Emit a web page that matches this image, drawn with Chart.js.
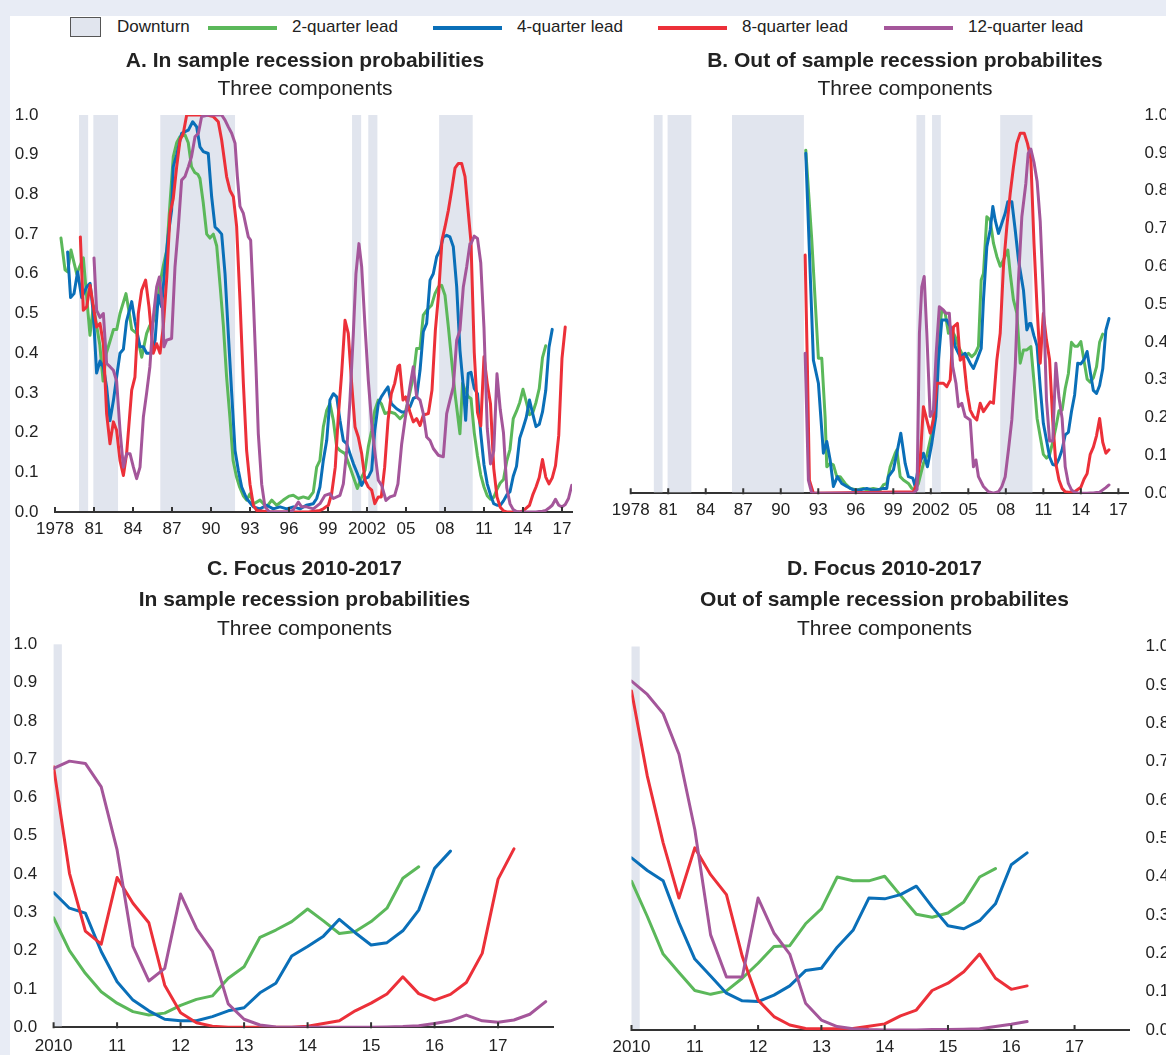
<!DOCTYPE html>
<html><head><meta charset="utf-8">
<script src="https://cdn.jsdelivr.net/npm/chart.js@4.4.1/dist/chart.umd.min.js"></script>
<style>
html,body{margin:0;padding:0;background:#fff;overflow:hidden;width:1166px;height:1055px;position:relative}
#frameTop{position:absolute;left:0;top:0;width:1166px;height:16px;background:#e8ecf5}
#frameLeft{position:absolute;left:0;top:0;width:10px;height:1055px;background:#e8ecf5}
.lg{position:absolute;top:17px;line-height:20px;font:17px 'Liberation Sans',Arial,sans-serif;color:#222;white-space:nowrap}
.ln{position:absolute;top:26px;height:4px}
.bx{position:absolute;left:70px;top:17px;width:29px;height:18px;border:1px solid #555;background:#e1e5ee}
canvas{position:absolute}
</style></head>
<body>
<div id="frameTop"></div><div id="frameLeft"></div>
<div class="bx"></div><div class="lg" style="left:117px">Downturn</div>
<div class="ln" style="left:208px;width:69px;background:#5bb85a"></div><div class="lg" style="left:292px">2-quarter lead</div>
<div class="ln" style="left:433px;width:69px;background:#0a6fb8"></div><div class="lg" style="left:517px">4-quarter lead</div>
<div class="ln" style="left:658px;width:69px;background:#ec3039"></div><div class="lg" style="left:742px">8-quarter lead</div>
<div class="ln" style="left:884px;width:69px;background:#a4569a"></div><div class="lg" style="left:968px">12-quarter lead</div>

<canvas id="cA" width="610" height="505" style="left:0;top:40px"></canvas>
<canvas id="cB" width="610" height="486" style="left:600px;top:40px"></canvas>
<canvas id="cC" width="609" height="515" style="left:0;top:545px"></canvas>
<canvas id="cD" width="569" height="515" style="left:600px;top:545px"></canvas>

<script>
// ---------- DATA ----------
const seriesNames = ['2-quarter lead', '4-quarter lead', '8-quarter lead', '12-quarter lead'];
const downturns = [[1979.85,1980.55],[1980.95,1982.85],[1986.1,1991.85],[2000.85,2001.55],[2002.1,2002.8],[2007.55,2010.13]];

const longTickValues = [1978,1981,1984,1987,1990,1993,1996,1999,2002,2005,2008,2011,2014,2017];
const longTickLabels = ['1978','81','84','87','90','93','96','99','2002','05','08','11','14','17'];
const focusTickValues = [2010,2011,2012,2013,2014,2015,2016,2017];
const focusTickLabels = ['2010','11','12','13','14','15','16','17'];
const probTickValues = [0,0.1,0.2,0.3,0.4,0.5,0.6,0.7,0.8,0.9,1.0];
const probTickLabels = ['0.0','0.1','0.2','0.3','0.4','0.5','0.6','0.7','0.8','0.9','1.0'];

// quarters 2010Q1 .. 2017Q4
const focusQuarters = [2010,2010.25,2010.5,2010.75,2011,2011.25,2011.5,2011.75,2012,2012.25,2012.5,2012.75,2013,2013.25,2013.5,2013.75,2014,2014.25,2014.5,2014.75,2015,2015.25,2015.5,2015.75,2016,2016.25,2016.5,2016.75,2017,2017.25,2017.5,2017.75];

// Panel C (in sample, 2010-2017)
const focusIn2q = [0.286,0.200,0.141,0.093,0.063,0.041,0.032,0.037,0.057,0.073,0.082,0.128,0.158,0.235,0.254,0.276,0.309,0.278,0.245,0.250,0.276,0.311,0.389,0.419];
const focusIn4q = [0.352,0.311,0.298,0.198,0.119,0.071,0.043,0.021,0.017,0.017,0.028,0.043,0.051,0.090,0.115,0.186,0.211,0.238,0.282,0.247,0.215,0.221,0.252,0.306,0.415,0.460];
const focusIn8q = [0.680,0.402,0.251,0.217,0.391,0.324,0.273,0.110,0.038,0.012,0.003,0.000,0.000,0.000,0.000,0.000,0.003,0.010,0.017,0.043,0.063,0.087,0.132,0.088,0.071,0.086,0.117,0.193,0.387,0.466];
const focusIn12q = [0.676,0.695,0.689,0.628,0.463,0.211,0.121,0.154,0.348,0.258,0.199,0.061,0.021,0.006,0.001,0.000,0.000,0.000,0.000,0.000,0.000,0.001,0.002,0.004,0.010,0.017,0.032,0.017,0.013,0.019,0.034,0.067];

// Panel D (out of sample, 2010-2017)
const focusOut2q = [0.388,0.296,0.198,0.150,0.103,0.093,0.102,0.135,0.174,0.218,0.220,0.277,0.316,0.399,0.389,0.389,0.401,0.351,0.302,0.294,0.305,0.334,0.399,0.421];
const focusOut4q = [0.449,0.416,0.389,0.280,0.185,0.141,0.096,0.076,0.074,0.091,0.115,0.155,0.161,0.216,0.260,0.344,0.342,0.353,0.375,0.321,0.272,0.264,0.285,0.329,0.431,0.462];
const focusOut8q = [0.884,0.662,0.488,0.344,0.475,0.405,0.353,0.192,0.078,0.035,0.013,0.004,0.003,0.003,0.004,0.010,0.016,0.037,0.052,0.103,0.122,0.152,0.198,0.135,0.106,0.115];
const focusOut12q = [0.910,0.875,0.825,0.719,0.523,0.248,0.138,0.138,0.344,0.253,0.198,0.070,0.026,0.009,0.003,0.001,0.000,0.000,0.000,0.001,0.001,0.002,0.003,0.009,0.015,0.022];

// Panel A before 2010: [year, probability]
const in2qEarly = [[1978.46,0.69],[1978.77,0.61],[1978.97,0.605],[1979.23,0.66],[1979.67,0.60],[1980.18,0.64],[1980.69,0.445],[1980.95,0.52],[1981.2,0.47],[1981.45,0.42],[1981.7,0.33],[1981.95,0.40],[1982.23,0.43],[1982.5,0.46],[1982.75,0.46],[1983.0,0.50],[1983.46,0.55],[1983.72,0.50],[1983.9,0.46],[1984.28,0.45],[1984.67,0.39],[1985.05,0.45],[1985.3,0.47],[1985.56,0.48],[1985.82,0.52],[1986.1,0.58],[1986.33,0.62],[1986.6,0.66],[1986.85,0.78],[1987.1,0.895],[1987.36,0.93],[1987.6,0.945],[1988.0,0.95],[1988.25,0.93],[1988.5,0.87],[1988.75,0.855],[1989.0,0.85],[1989.15,0.84],[1989.4,0.78],[1989.67,0.70],[1989.92,0.69],[1990.18,0.70],[1990.44,0.67],[1990.7,0.57],[1990.95,0.47],[1991.2,0.34],[1991.45,0.24],[1991.7,0.13],[1991.95,0.09],[1992.2,0.063],[1992.5,0.04],[1992.74,0.03],[1993.0,0.046],[1993.26,0.02],[1993.77,0.03],[1994.28,0.013],[1994.67,0.03],[1995.05,0.017],[1995.56,0.03],[1996.0,0.04],[1996.33,0.042],[1996.72,0.034],[1997.1,0.038],[1997.5,0.034],[1997.87,0.05],[1998.13,0.113],[1998.38,0.13],[1998.64,0.214],[1998.9,0.256],[1999.15,0.273],[1999.41,0.231],[1999.67,0.164],[1999.92,0.155],[2000.31,0.147],[2000.69,0.113],[2000.95,0.088],[2001.26,0.059],[2001.59,0.088],[2001.85,0.105],[2002.1,0.164],[2002.36,0.206],[2002.6,0.256],[2002.87,0.282],[2003.1,0.273],[2003.38,0.248],[2003.77,0.252],[2004.15,0.248],[2004.54,0.235],[2004.92,0.248],[2005.18,0.282],[2005.56,0.34],[2005.82,0.412],[2006.08,0.412],[2006.33,0.496],[2006.59,0.508],[2006.97,0.521],[2007.23,0.55],[2007.49,0.567],[2007.74,0.571],[2008.0,0.546],[2008.26,0.466],[2008.51,0.382],[2008.77,0.298],[2009.15,0.197],[2009.35,0.324],[2009.54,0.307],[2009.8,0.29]];
const in4qEarly = [[1978.97,0.655],[1979.2,0.54],[1979.46,0.55],[1979.74,0.605],[1980.05,0.54],[1980.44,0.567],[1980.7,0.576],[1980.95,0.50],[1981.2,0.35],[1981.46,0.38],[1981.72,0.365],[1981.97,0.315],[1982.23,0.23],[1982.49,0.28],[1982.74,0.34],[1983.0,0.40],[1983.26,0.41],[1983.5,0.48],[1983.9,0.53],[1984.15,0.48],[1984.54,0.416],[1984.8,0.416],[1985.05,0.40],[1985.44,0.40],[1985.7,0.433],[1985.95,0.546],[1986.2,0.517],[1986.46,0.617],[1986.72,0.70],[1986.97,0.76],[1987.1,0.87],[1987.36,0.90],[1987.74,0.954],[1988.0,0.958],[1988.26,0.962],[1988.59,0.983],[1988.9,0.97],[1989.15,0.92],[1989.41,0.908],[1989.79,0.903],[1990.05,0.794],[1990.31,0.718],[1990.56,0.71],[1990.82,0.70],[1991.08,0.60],[1991.33,0.45],[1991.59,0.30],[1991.85,0.155],[1992.1,0.105],[1992.36,0.063],[1992.74,0.034],[1993.26,0.013],[1993.77,0.008],[1994.28,0.017],[1994.79,0.008],[1995.31,0.013],[1995.82,0.008],[1996.33,0.013],[1996.85,0.008],[1997.33,0.017],[1997.87,0.021],[1998.13,0.034],[1998.38,0.063],[1998.64,0.13],[1998.9,0.18],[1999.15,0.282],[1999.41,0.298],[1999.67,0.29],[1999.92,0.231],[2000.18,0.18],[2000.44,0.172],[2000.69,0.147],[2000.95,0.122],[2001.26,0.097],[2001.59,0.067],[2001.85,0.084],[2002.1,0.088],[2002.36,0.105],[2002.6,0.206],[2002.87,0.273],[2003.1,0.29],[2003.36,0.303],[2003.62,0.315],[2003.87,0.273],[2004.28,0.26],[2004.67,0.252],[2004.92,0.252],[2005.31,0.265],[2005.56,0.286],[2005.82,0.29],[2006.08,0.357],[2006.33,0.454],[2006.59,0.475],[2006.85,0.584],[2007.1,0.60],[2007.36,0.643],[2007.62,0.66],[2007.87,0.693],[2008.13,0.697],[2008.38,0.693],[2008.64,0.668],[2008.9,0.567],[2009.15,0.408],[2009.41,0.315],[2009.59,0.231],[2009.79,0.349]];
const in8qEarly = [[1979.95,0.693],[1980.18,0.508],[1980.44,0.517],[1980.7,0.571],[1980.95,0.517],[1981.2,0.466],[1981.46,0.475],[1981.72,0.424],[1981.97,0.248],[1982.23,0.172],[1982.49,0.227],[1982.74,0.206],[1983.0,0.13],[1983.26,0.092],[1983.51,0.147],[1983.9,0.307],[1984.15,0.34],[1984.41,0.50],[1984.67,0.559],[1984.97,0.584],[1985.23,0.517],[1985.56,0.40],[1985.82,0.424],[1986.08,0.40],[1986.33,0.466],[1986.6,0.592],[1986.85,0.752],[1987.1,0.79],[1987.36,0.87],[1987.62,0.937],[1987.87,0.954],[1988.13,1.0],[1988.64,1.0],[1989.15,1.0],[1989.67,1.0],[1990.18,0.996],[1990.56,0.983],[1990.82,0.937],[1991.2,0.845],[1991.46,0.81],[1991.72,0.794],[1991.97,0.72],[1992.23,0.533],[1992.49,0.324],[1992.74,0.155],[1993.0,0.07],[1993.26,0.017],[1993.51,0.004],[1994.5,0.0],[1996.0,0.0],[1997.5,0.0],[1998.38,0.004],[1998.64,0.008],[1999.03,0.017],[1999.28,0.046],[1999.56,0.113],[1999.79,0.24],[2000.05,0.349],[2000.31,0.483],[2000.56,0.45],[2000.82,0.324],[2001.08,0.214],[2001.33,0.189],[2001.59,0.147],[2001.85,0.08],[2002.1,0.063],[2002.36,0.055],[2002.6,0.021],[2002.87,0.038],[2003.1,0.038],[2003.36,0.113],[2003.62,0.231],[2003.87,0.298],[2004.13,0.324],[2004.38,0.366],[2004.51,0.37],[2004.77,0.282],[2004.97,0.29],[2005.3,0.252],[2005.56,0.227],[2005.82,0.235],[2006.08,0.218],[2006.33,0.244],[2006.72,0.248],[2007.0,0.307],[2007.26,0.458],[2007.51,0.55],[2007.77,0.685],[2008.0,0.718],[2008.26,0.76],[2008.51,0.81],[2008.77,0.866],[2009.03,0.878],[2009.28,0.878],[2009.54,0.845]];
const in12qEarly = [[1981.0,0.64],[1981.2,0.508],[1981.46,0.49],[1981.72,0.50],[1981.97,0.374],[1982.23,0.366],[1982.49,0.357],[1982.74,0.33],[1983.0,0.206],[1983.26,0.113],[1983.51,0.147],[1983.77,0.147],[1984.03,0.113],[1984.28,0.084],[1984.54,0.113],[1984.8,0.24],[1985.05,0.30],[1985.3,0.366],[1985.56,0.49],[1985.82,0.567],[1986.03,0.592],[1986.26,0.517],[1986.38,0.416],[1986.59,0.433],[1986.97,0.437],[1987.23,0.617],[1987.49,0.718],[1987.74,0.836],[1988.0,0.845],[1988.26,0.87],[1988.5,0.895],[1988.77,0.945],[1989.03,0.954],[1989.28,0.996],[1989.8,1.0],[1990.44,1.0],[1990.82,1.0],[1991.08,0.987],[1991.33,0.97],[1991.59,0.954],[1991.85,0.929],[1992.03,0.845],[1992.23,0.77],[1992.49,0.752],[1992.87,0.693],[1993.05,0.685],[1993.26,0.533],[1993.46,0.366],[1993.64,0.197],[1993.9,0.07],[1994.15,0.013],[1994.5,0.0],[1995.8,0.0],[1996.3,0.004],[1996.72,0.025],[1996.97,0.013],[1997.36,0.013],[1997.87,0.008],[1998.38,0.021],[1998.77,0.042],[1999.15,0.046],[1999.41,0.034],[1999.92,0.042],[2000.18,0.071],[2000.44,0.155],[2000.69,0.282],[2000.95,0.45],[2001.15,0.60],[2001.38,0.676],[2001.59,0.618],[2001.85,0.466],[2002.1,0.332],[2002.36,0.223],[2002.62,0.147],[2002.87,0.08],[2003.13,0.067],[2003.46,0.029],[2003.77,0.038],[2004.13,0.042],[2004.38,0.071],[2004.67,0.172],[2004.92,0.231],[2005.3,0.315],[2005.56,0.366],[2005.82,0.29],[2006.08,0.282],[2006.33,0.248],[2006.59,0.189],[2006.85,0.18],[2007.1,0.16],[2007.49,0.143],[2007.87,0.139],[2008.13,0.248],[2008.38,0.282],[2008.64,0.315],[2008.9,0.433],[2009.15,0.458],[2009.41,0.567],[2009.67,0.618],[2009.92,0.676]];

// Panel B before 2010: [year, probability]
const out2qEarly = [[1992.0,0.907],[1992.48,0.67],[1993.01,0.357],[1993.28,0.357],[1993.55,0.2],[1993.68,0.07],[1993.95,0.079],[1994.21,0.075],[1994.48,0.044],[1994.75,0.044],[1995.15,0.026],[1995.55,0.013],[1996.08,0.009],[1996.6,0.013],[1996.88,0.009],[1997.4,0.013],[1997.95,0.009],[1998.2,0.022],[1998.48,0.026],[1998.75,0.07],[1999.15,0.106],[1999.28,0.115],[1999.55,0.044],[1999.81,0.035],[2000.21,0.026],[2000.48,0.013],[2000.75,0.009],[2001.01,0.026],[2001.41,0.079],[2001.68,0.1],[2002.08,0.159],[2002.35,0.247],[2002.61,0.405],[2002.88,0.485],[2003.15,0.476],[2003.41,0.423],[2003.68,0.432],[2003.95,0.414],[2004.21,0.388],[2004.48,0.37],[2004.75,0.361],[2005.01,0.37],[2005.28,0.361],[2005.55,0.37],[2005.81,0.388],[2006.03,0.564],[2006.21,0.581],[2006.48,0.731],[2006.75,0.722],[2007.01,0.661],[2007.28,0.626],[2007.55,0.6],[2007.81,0.617],[2008.16,0.643],[2008.35,0.581],[2008.61,0.511],[2008.88,0.476],[2009.15,0.344],[2009.41,0.379],[2009.68,0.379]];
const out4qEarly = [[1992.0,0.899],[1992.61,0.352],[1993.01,0.291],[1993.41,0.106],[1993.68,0.137],[1993.95,0.088],[1994.21,0.018],[1994.53,0.044],[1994.88,0.026],[1995.28,0.018],[1995.81,0.009],[1996.35,0.009],[1996.88,0.013],[1997.28,0.009],[1997.68,0.009],[1998.2,0.013],[1998.48,0.013],[1998.61,0.044],[1999.01,0.062],[1999.28,0.106],[1999.6,0.159],[1999.95,0.079],[2000.21,0.044],[2000.56,0.04],[2000.75,0.018],[2001.01,0.07],[2001.41,0.106],[2001.73,0.07],[2002.08,0.132],[2002.4,0.203],[2002.61,0.352],[2002.88,0.458],[2003.28,0.458],[2003.68,0.432],[2003.95,0.388],[2004.35,0.361],[2004.75,0.37],[2005.15,0.344],[2005.41,0.33],[2005.68,0.352],[2006.03,0.383],[2006.21,0.511],[2006.48,0.652],[2006.75,0.696],[2006.96,0.758],[2007.15,0.722],[2007.41,0.687],[2007.68,0.714],[2007.95,0.74],[2008.16,0.771],[2008.48,0.771],[2008.75,0.696],[2009.01,0.617],[2009.41,0.537],[2009.68,0.432],[2009.89,0.449]];
const out8qEarly = [[1991.95,0.63],[1992.13,0.335],[1992.29,0.035],[1992.61,0.0],[2000.61,0.004],[2000.88,0.026],[2001.15,0.088],[2001.41,0.229],[2001.68,0.194],[2001.95,0.159],[2002.21,0.194],[2002.48,0.291],[2002.75,0.291],[2003.01,0.291],[2003.28,0.282],[2003.55,0.3],[2003.81,0.44],[2004.13,0.449],[2004.35,0.352],[2004.61,0.361],[2004.88,0.273],[2005.15,0.22],[2005.41,0.203],[2005.68,0.194],[2005.95,0.238],[2006.21,0.216],[2006.48,0.229],[2006.75,0.242],[2007.01,0.238],[2007.28,0.352],[2007.55,0.423],[2007.81,0.6],[2008.08,0.705],[2008.35,0.793],[2008.61,0.863],[2008.88,0.925],[2009.15,0.952],[2009.47,0.952],[2009.73,0.925]];
const out12qEarly = [[1991.95,0.37],[1992.21,0.035],[1992.48,0.0],[2000.61,0.0],[2000.9,0.01],[2001.09,0.423],[2001.28,0.546],[2001.47,0.573],[2001.68,0.423],[2001.95,0.203],[2002.21,0.22],[2002.43,0.37],[2002.68,0.493],[2003.0,0.485],[2003.21,0.476],[2003.48,0.476],[2003.75,0.335],[2004.01,0.291],[2004.21,0.229],[2004.48,0.238],[2004.75,0.203],[2005.15,0.194],[2005.41,0.07],[2005.61,0.088],[2005.81,0.044],[2006.21,0.018],[2006.61,0.004],[2007.01,0.0],[2007.41,0.004],[2007.68,0.018],[2007.95,0.044],[2008.21,0.115],[2008.48,0.194],[2008.75,0.335],[2009.01,0.564],[2009.28,0.731],[2009.6,0.819],[2009.79,0.899]];

// ---------- STYLE ----------
const FONT = "'Liberation Sans', Arial, Helvetica, sans-serif";
const COLORS = ['#5bb85a', '#0a6fb8', '#ec3039', '#a4569a'];
const BAND_COLOR = '#e1e5ee';
Chart.defaults.font.family = FONT;
Chart.defaults.color = '#222';

const pairsToPts = p => p.map(([x, y]) => ({x, y}));
const focusPts = vals => vals.map((y, i) => ({x: focusQuarters[i], y}));

const bandsAndTicks = {
  id: 'bandsAndTicks',
  beforeDatasetsDraw(chart) {
    const {ctx, chartArea: {top, bottom, left, right}, scales: {x}} = chart;
    ctx.save();
    ctx.fillStyle = BAND_COLOR;
    downturns.forEach(([s, e]) => {
      const x1 = Math.max(x.getPixelForValue(s), left);
      const x2 = Math.min(x.getPixelForValue(e), right);
      if (x2 > x1) ctx.fillRect(x1, top, x2 - x1, bottom - top - 1);
    });
    ctx.restore();
  },
  afterDatasetsDraw(chart) {
    const {ctx, chartArea: {bottom}, scales: {x}} = chart;
    ctx.save();
    ctx.strokeStyle = '#333';
    ctx.lineWidth = 2;
    ctx.beginPath();
    x.ticks.forEach((t, i) => {
      const px = x.getPixelForTick(i);
      ctx.moveTo(px, bottom + 1);
      ctx.lineTo(px, bottom - 5);
    });
    ctx.stroke();
    ctx.restore();
  }
};

function makeChart(id, o) {
  const datasets = o.series.map((pts, i) => ({
    label: seriesNames[i], data: pts, borderColor: COLORS[i], backgroundColor: COLORS[i],
    borderWidth: 3, pointRadius: 0, tension: 0, fill: false, order: 4 - i,
    borderJoinStyle: 'round', borderCapStyle: 'round'
  }));
  const yMain = {
    type: 'linear', position: o.yPos, min: 0, max: 1,
    afterBuildTicks: s => { s.ticks = probTickValues.map(v => ({value: v})); },
    afterFit: s => { s.width = o.yWidth; },
    ticks: { padding: o.yPad, font: {size: 17}, color: '#222', callback: (v, i) => probTickLabels[i] },
    grid: { display: false, drawTicks: false }, border: { display: false }
  };
  const yDummy = {
    type: 'linear', position: o.yPos === 'left' ? 'right' : 'left', display: true,
    afterFit: s => { s.width = o.dummyWidth; },
    ticks: { display: false }, grid: { display: false, drawTicks: false }, border: { display: false }
  };
  return new Chart(document.getElementById(id), {
    type: 'line',
    data: { datasets },
    options: {
      responsive: false, animation: false, devicePixelRatio: 1,
      layout: { padding: 0 },
      scales: {
        x: {
          type: 'linear', min: o.xMin, max: o.xMax,
          afterBuildTicks: s => { s.ticks = o.xTicks.map(v => ({value: v})); },
          afterFit: s => { s.height = o.xHeight; },
          ticks: { autoSkip: false, maxRotation: 0, padding: o.xPad, font: {size: 17}, color: '#222', callback: (v, i) => o.xLabels[i] },
          grid: { display: false, drawTicks: false },
          border: { display: true, color: '#333', width: 2 }
        },
        y: yMain,
        yd: yDummy
      },
      plugins: {
        legend: { display: false },
        tooltip: { enabled: false },
        title: { display: true, text: o.title, color: '#222', font: {size: 21, weight: 'bold', lineHeight: o.titleLH}, padding: o.titlePad },
        subtitle: { display: true, text: 'Three components', color: '#222', font: {size: 21, weight: 'normal', lineHeight: 1.2}, padding: o.subPad }
      }
    },
    plugins: [bandsAndTicks]
  });
}

makeChart('cA', {
  series: [
    pairsToPts(in2qEarly).concat(focusPts(focusIn2q)),
    pairsToPts(in4qEarly).concat(focusPts(focusIn4q)),
    pairsToPts(in8qEarly).concat(focusPts(focusIn8q)),
    pairsToPts(in12qEarly).concat(focusPts(focusIn12q))
  ],
  xMin: 1978, xMax: 2017.77, xTicks: longTickValues, xLabels: longTickLabels, xHeight: 33, xPad: 7,
  yPos: 'left', yWidth: 55, yPad: 16.5, dummyWidth: 38,
  title: 'A. In sample recession probabilities', titleLH: 1.2,
  titlePad: {top: 8.4, bottom: 1.4}, subPad: {top: 1.4, bottom: 13.4}
});

makeChart('cB', {
  series: [
    pairsToPts(out2qEarly).concat(focusPts(focusOut2q)),
    pairsToPts(out4qEarly).concat(focusPts(focusOut4q)),
    pairsToPts(out8qEarly).concat(focusPts(focusOut8q)),
    pairsToPts(out12qEarly).concat(focusPts(focusOut12q))
  ],
  xMin: 1978, xMax: 2017.77, xTicks: longTickValues, xLabels: longTickLabels, xHeight: 32.7, xPad: 7,
  yPos: 'right', yWidth: 82, yPad: 16.5, dummyWidth: 30.7,
  title: 'B. Out of sample recession probabilites', titleLH: 1.2,
  titlePad: {top: 8.4, bottom: 1.4}, subPad: {top: 1.4, bottom: 13.4}
});

makeChart('cC', {
  series: [focusPts(focusIn2q), focusPts(focusIn4q), focusPts(focusIn8q), focusPts(focusIn12q)],
  xMin: 2010, xMax: 2017.865, xTicks: focusTickValues, xLabels: focusTickLabels, xHeight: 32.7, xPad: 8.5,
  yPos: 'left', yWidth: 53.6, yPad: 16.5, dummyWidth: 56,
  title: ['C. Focus 2010-2017', 'In sample recession probabilities'], titleLH: 1.46,
  titlePad: {top: 9, bottom: 0.5}, subPad: {top: 0.6, bottom: 2.7}
});

makeChart('cD', {
  series: [focusPts(focusOut2q), focusPts(focusOut4q), focusPts(focusOut8q), focusPts(focusOut12q)],
  xMin: 2010, xMax: 2017.86, xTicks: focusTickValues, xLabels: focusTickLabels, xHeight: 30, xPad: 7.5,
  yPos: 'right', yWidth: 40, yPad: 16.5, dummyWidth: 31.5,
  title: ['D. Focus 2010-2017', 'Out of sample recession probabilites'], titleLH: 1.46,
  titlePad: {top: 9, bottom: 0.5}, subPad: {top: 0.6, bottom: 4.9}
});
</script>
</body></html>
